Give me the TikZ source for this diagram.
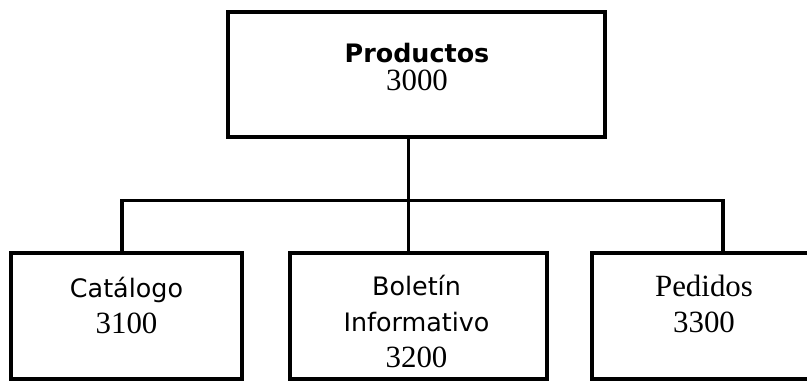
\documentclass[tikz,border=0pt]{standalone}
\usepackage{fontspec}
\setmainfont{Liberation Serif}
\newfontfamily\tahomalike{DejaVu Sans}
\usetikzlibrary{positioning,calc}

\begin{document}
\begin{tikzpicture}[x=1bp,y=1bp,
    unit/.style={rectangle, draw, line width=3.2bp, inner sep=0pt, minimum height=126bp},
    caption/.style={align=center, inner sep=0pt, anchor=base, font=\fontsize{31}{36}\selectfont},
    link/.style={line width=3.2bp}
]
\useasboundingbox (0,0) rectangle (807,381);

% Top level
\node[unit, minimum width=377bp, minimum height=125bp] (prod) at (416.5,306.5) {};
\node[caption, font=\fontsize{31}{28}\selectfont] (prodtxt) at (417,291) {{\fontsize{25.5}{28}\selectfont\tahomalike\bfseries Productos}\\3000};

% Second level
\node[unit, minimum width=231bp] (cat) at (126.5,65) {};
\node[caption] (cattxt) at (126.5,48) {{\fontsize{25.5}{36}\selectfont\tahomalike Catálogo}\\3100};

\node[unit, minimum width=257bp] (bol) at (418.5,65) {};
\node[caption] (boltxt) at (416.5,14) {{\fontsize{25.5}{36}\selectfont\tahomalike Boletín}\\{\fontsize{25.5}{36}\selectfont\tahomalike Informativo}\\3200};

\node[unit, minimum width=224bp] (ped) at (704,65) {};
\node[caption] (pedtxt) at (704,49) {Pedidos\\3300};

% Connections
\coordinate (stem) at ($(prod.south)+(-8,0)$);
\coordinate (bus) at ($(stem)+(0,-62)$);
\draw[link] (stem) -- (stem |- bol.north);
\draw[link] ($(cat.north)+(-4.5,0)$) |- (bus) -| ($(ped.north)+(19,0)$);

\end{tikzpicture}
\end{document}
